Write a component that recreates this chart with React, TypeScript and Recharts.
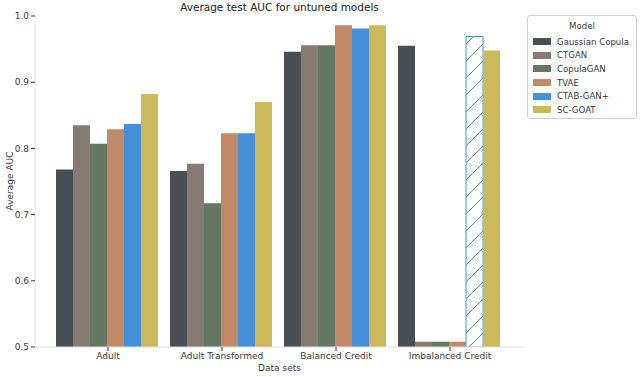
import { BarChart, Bar, XAxis, YAxis, Cell } from "recharts";

const datasets = ["Adult", "Adult Transformed", "Balanced Credit", "Imbalanced Credit"];
const gaussianCopula = [0.768, 0.766, 0.946, 0.955];
const ctgan = [0.835, 0.777, 0.956, 0.508];
const copulaGan = [0.807, 0.717, 0.956, 0.508];
const tvae = [0.829, 0.823, 0.986, 0.508];
const ctabGanPlus = [0.837, 0.823, 0.981, 0.969];
const scGoat = [0.882, 0.87, 0.986, 0.948];
const yTicks = [0.5, 0.6, 0.7, 0.8, 0.9, 1.0];

const models = [
  { key: "gc", name: "Gaussian Copula", color: "#4a4f55", values: gaussianCopula },
  { key: "ctgan", name: "CTGAN", color: "#857a74", values: ctgan },
  { key: "copulagan", name: "CopulaGAN", color: "#657663", values: copulaGan },
  { key: "tvae", name: "TVAE", color: "#c08a68", values: tvae },
  { key: "ctab", name: "CTAB-GAN+", color: "#4690d8", values: ctabGanPlus },
  { key: "scgoat", name: "SC-GOAT", color: "#cbb95c", values: scGoat },
];

const data = datasets.map((name, i) => {
  const row: Record<string, string | number> = { name };
  models.forEach((m) => (row[m.key] = m.values[i]));
  return row;
});

const FONT = "'DejaVu Sans', sans-serif";
const tickStyle = { fontSize: 9, fill: "#3a3a3a", fontFamily: FONT };

function ModelLegend() {
  return (
    <div
      style={{
        position: "absolute",
        left: 527,
        top: 15,
        width: 110,
        height: 104,
        border: "1px solid #d0d0d0",
        borderRadius: 3,
        background: "#fff",
        fontFamily: FONT,
        fontSize: 8.6,
        color: "#3a3a3a",
        boxSizing: "border-box",
        whiteSpace: "nowrap",
      }}
    >
      <div style={{ textAlign: "center", marginTop: 4, lineHeight: "13px" }}>Model</div>
      <div style={{ marginTop: 2 }}>
        {models.map((m) => (
          <div key={m.key} style={{ display: "flex", alignItems: "center", height: 13.6 }}>
            <span style={{ display: "inline-block", flex: "none", width: 18, height: 7, background: m.color, marginLeft: 5, marginRight: 6 }} />
            <span>{m.name}</span>
          </div>
        ))}
      </div>
    </div>
  );
}

export default function App() {
  return (
    <div style={{ position: "absolute", left: 0, top: 0, width: 640, height: 377, background: "#fff" }}>
      <svg width={0} height={0} style={{ position: "absolute" }}>
        <defs>
          <pattern id="hatch" patternUnits="userSpaceOnUse" width={17} height={17}>
            <line x1={0} y1={17} x2={17} y2={0} stroke="#4690d8" strokeWidth={1} />
          </pattern>
        </defs>
      </svg>
      <div
        style={{
          position: "absolute",
          left: 35,
          width: 489,
          top: 0,
          textAlign: "center",
          fontFamily: FONT,
          fontSize: 10.5,
          color: "#222",
          lineHeight: "14px",
        }}
      >
        Average test AUC for untuned models
      </div>
      <BarChart
        width={640}
        height={377}
        data={data}
        margin={{ top: 16, right: 116, bottom: 0, left: 0 }}
        barCategoryGap={5}
        barGap={0}
      >
        <XAxis
          dataKey="name"
          height={30}
          padding={{ left: 16, right: 17 }}
          tick={tickStyle}
          tickSize={4}
          tickLine={{ stroke: "#333" }}
          axisLine={{ stroke: "#ddd" }}
          label={{ value: "Data sets", position: "insideBottom", offset: 6, style: { fontSize: 9, fill: "#3a3a3a", fontFamily: FONT } }}
        />
        <XAxis xAxisId="top" dataKey="name" orientation="top" height={0} tick={false} tickLine={false} axisLine={{ stroke: "#000", strokeWidth: 1.2 }} />
        <YAxis
          width={35}
          domain={[0.5, 1.0]}
          ticks={yTicks}
          allowDataOverflow
          tickFormatter={(v: number) => v.toFixed(1)}
          tick={tickStyle}
          tickSize={4}
          tickLine={{ stroke: "#333" }}
          axisLine={{ stroke: "#e4e4e4" }}
          label={() => (
            <text x={10} y={181} transform="rotate(-90 10 181)" textAnchor="middle" dominantBaseline="central" fontSize={9} fill="#3a3a3a" fontFamily={FONT}>
              Average AUC
            </text>
          )}
        />
        <YAxis yAxisId="right" orientation="right" width={0} domain={[0.5, 1.0]} tick={false} tickLine={false} axisLine={{ stroke: "#555" }} />
        {models.map((m) => (
          <Bar key={m.key} dataKey={m.key} name={m.name} fill={m.color} isAnimationActive={false}>
            {m.key === "ctab"
              ? data.map((_, i) => (
                  <Cell
                    key={i}
                    fill={i === 3 ? "url(#hatch)" : m.color}
                    stroke={i === 3 ? "#4690d8" : "none"}
                    strokeWidth={1}
                  />
                ))
              : null}
          </Bar>
        ))}
      </BarChart>
      <ModelLegend />
    </div>
  );
}
